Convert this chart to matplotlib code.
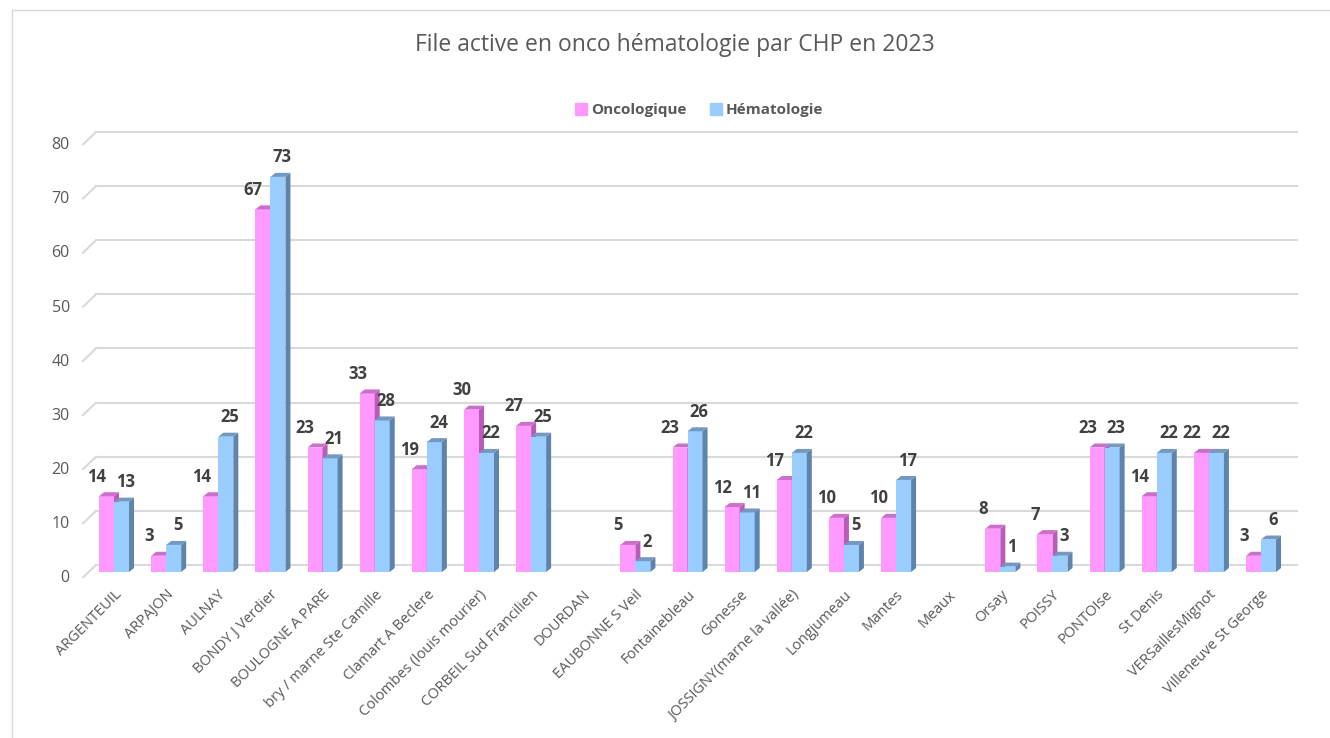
import matplotlib.pyplot as plt
from matplotlib.patches import Polygon
from matplotlib.lines import Line2D
import numpy as np

# Data
sites = ['ARGENTEUIL', 'ARPAJON', 'AULNAY', 'BONDY J Verdier', 'BOULOGNE A PARE',
         'bry / marne Ste Camille', 'Clamart A Beclere', 'Colombes (louis mourier)',
         'CORBEIL Sud Francilien', 'DOURDAN', 'EAUBONNE S Veil', 'Fontainebleau',
         'Gonesse', 'JOSSIGNY(marne la vallée)', 'Longjumeau', 'Mantes', 'Meaux',
         'Orsay', 'POISSY', 'PONTOIse', 'St Denis', 'VERSaillesMignot',
         'Villeneuve St George']
onco = [14, 3, 14, 67, 23, 33, 19, 30, 27, np.nan, 5, 23, 12, 17, 10, 10, np.nan,
        8, 7, 23, 14, 22, 3]
hemato = [13, 5, 25, 73, 21, 28, 24, 22, 25, np.nan, 2, 26, 11, 22, 5, 17, np.nan,
          1, 3, 23, 22, 22, 6]
series = ['Oncologique', 'Hématologie']
yticks = list(range(0, 81, 10))

plt.rcParams['font.family'] = ['Open Sans', 'DejaVu Sans']
grey = '#595959'
front = ['#FF99FF', '#99CCFF']
side = ['#B85CB8', '#5F84AA']
topc = ['#CC6FCC', '#7398C2']

fig = plt.figure(figsize=(13.3, 7.38), dpi=100)
W, H = 1330, 738
ax = fig.add_axes([83 / W, 1 - 572 / H, (1297 - 83) / W, (572 - 139) / H])
ax.set_xlim(-0.595, 22.69)
ax.set_ylim(0, 80)
for s in ax.spines.values():
    s.set_visible(False)

x = np.arange(len(sites))
w = 0.288
# depth of the 3D effect: 5 px right, 4 px up
ddx = 5 / 52.14
ddy = 4 / 5.41
gy = 7 / 5.41  # back wall offset

# gridlines on the back wall with a slanted floor segment, labels by hand
for v in yticks:
    ax.plot([-0.595 + 13 / 52.14, 22.69], [v + gy, v + gy], color='#D9D9D9', lw=1.5,
            zorder=0, clip_on=False)
    ax.plot([-0.595, -0.595 + 13 / 52.14], [v - 1.0, v + gy], color='#D9D9D9',
            lw=1.5, zorder=0, clip_on=False)
    ax.annotate(str(v), (0, v), xycoords=('axes fraction', 'data'), xytext=(-9.5, -4.5),
                textcoords='offset points', ha='right', va='center', fontsize=11.5,
                color=grey)

ax.set_yticks([])
ax.set_xticks(x)
ax.set_xticklabels(sites, rotation=45, ha='right', rotation_mode='anchor',
                   fontsize=10.5, color=grey)
ax.tick_params(axis='x', length=0, pad=11)

z = 2
for k, vals in enumerate([onco, hemato]):
    xs = x - w / 2 if k == 0 else x + w / 2
    ax.bar(xs, vals, width=w, color=front[k], zorder=z, label=series[k])
    for xi, v in zip(xs, vals):
        if np.isnan(v):
            continue
        r = xi + w / 2
        l = xi - w / 2
        ax.add_patch(Polygon([(r, 0), (r, v), (r + ddx, v + ddy), (r + ddx, ddy)],
                             closed=True, color=side[k], zorder=z + 0.5, lw=0))
        ax.add_patch(Polygon([(l, v), (r, v), (r + ddx, v + ddy), (l + ddx, v + ddy)],
                             closed=True, color=topc[k], zorder=z + 0.5, lw=0))
        dx = -7 if k == 0 else 3
        ax.annotate(f'{int(v)}', (xi, v), xytext=(dx, 14), textcoords='offset points',
                    ha='center', va='center', fontsize=12, fontweight='bold',
                    color='#404040', zorder=10)
    z += 2

fig.text(675 / W, 1 - 45 / H, 'File active en onco hématologie par CHP en 2023',
         ha='center', va='center', fontsize=16.5, color=grey)

handles = [Line2D([], [], marker='s', ls='', markersize=8, color=c) for c in front]
leg = fig.legend(handles, series, loc='center', bbox_to_anchor=(700 / W, 1 - 110 / H),
                 ncol=2, frameon=False, handlelength=0.6, handletextpad=0.35,
                 columnspacing=1.6, prop={'weight': 'bold', 'size': 11})
for t in leg.get_texts():
    t.set_color(grey)

# outer chart frame (partly visible)
fig.add_artist(Line2D([12 / W, 12 / W], [0, 1 - 10 / H], color='#D9D9D9', lw=1))
fig.add_artist(Line2D([12 / W, 1], [1 - 10 / H, 1 - 10 / H], color='#D9D9D9', lw=1))

fig.savefig('out.png', dpi=100)
